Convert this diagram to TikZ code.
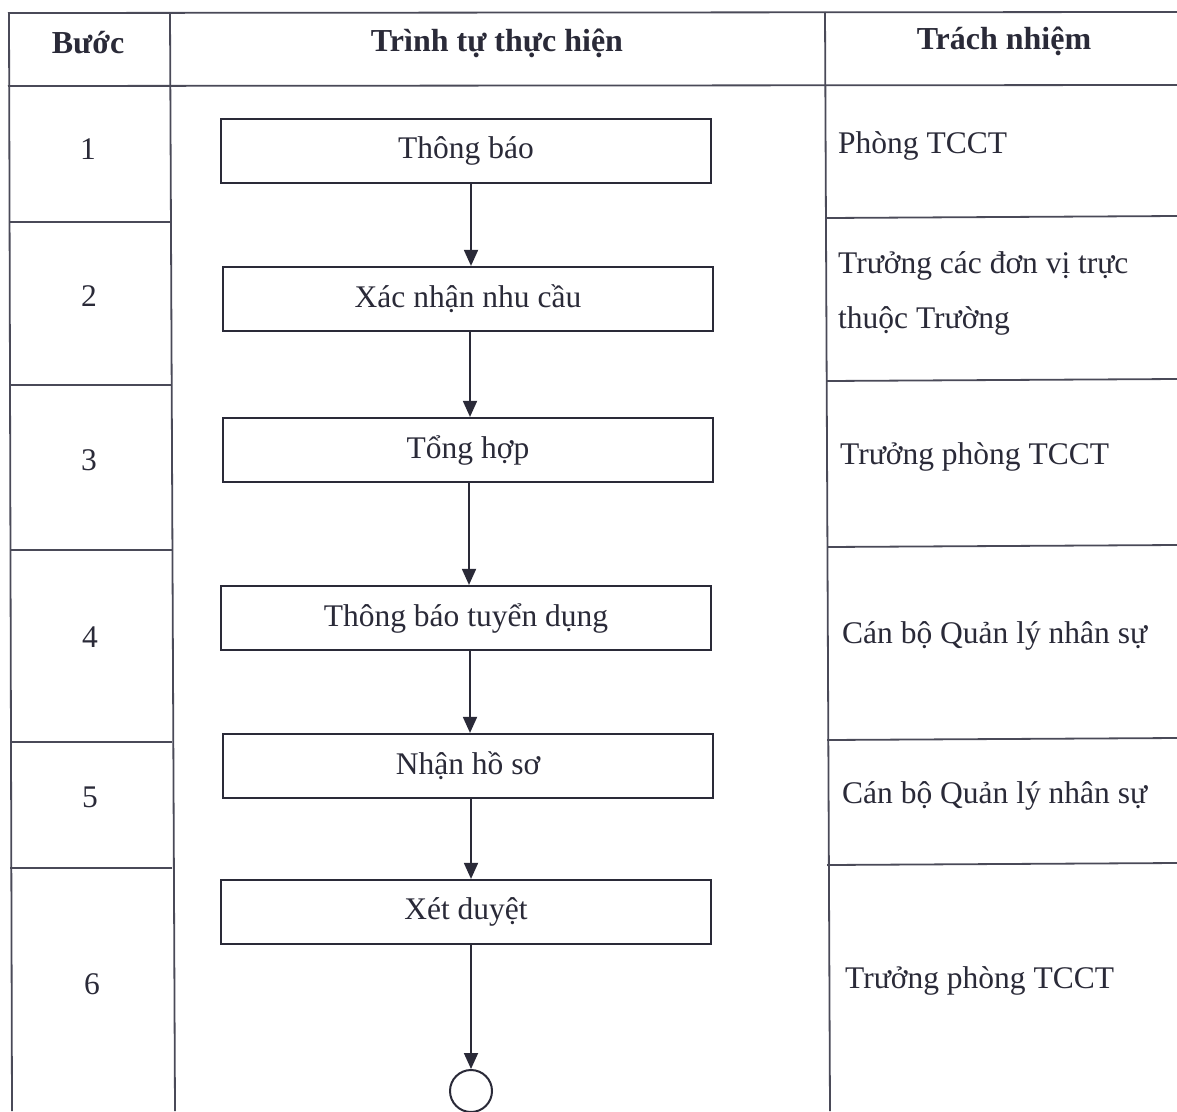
\documentclass[tikz,border=0pt]{standalone}
\usepackage{fontspec}
\setmainfont{Liberation Serif}
\usetikzlibrary{arrows.meta}
\definecolor{ink}{HTML}{2A2A38}
\definecolor{rule}{HTML}{4A4A58}
\tikzset{
  stepbox/.style={draw=ink, line width=2.2pt, minimum width=490pt, minimum height=64pt, inner sep=0pt, font=\fontsize{31.5}{36}\selectfont, text=ink},
  grid/.style={draw=rule, line width=1.8pt},
  arr/.style={draw=ink, line width=1.8pt, -{Triangle[length=16pt,width=14pt]}},
  num/.style={font=\fontsize{31.5}{36}\selectfont, text=ink},
  resp/.style={font=\fontsize{31.5}{36}\selectfont, text=ink, anchor=west, inner sep=0pt},
  head/.style={font=\bfseries\fontsize{32}{36}\selectfont, text=ink}
}
\begin{document}
\begin{tikzpicture}[x=1pt,y=-1pt]
\clip (0,0) rectangle (1177,1111);
\fill[white] (0,0) rectangle (1177,1111);
% table grid
\draw[grid] (8,13) -- (1177,12);
\draw[grid] (8,86) -- (1177,85);
\draw[grid] (9,13) -- (12,1111);
\draw[grid] (170,13) -- (175,1111);
\draw[grid] (825,12) -- (830,1111);
\foreach \y in {222,385,550,742,868} \draw[grid] (10,\y) -- (172,\y);
\foreach \y in {218,381,547,740,865} \draw[grid] (827,\y) -- (1177,\y-2);
% headers
\node[head] (h1) at (88,43) {Bước};
\node[head] (h2) at (497,43) {Trình tự thực hiện};
\node[head] (h3) at (1004,41) {Trách nhiệm};
% step numbers
\node[num] (n1) at (88,149) {1};
\node[num] (n2) at (89,296) {2};
\node[num] (n3) at (89,460) {3};
\node[num] (n4) at (90,637) {4};
\node[num] (n5) at (90,797) {5};
\node[num] (n6) at (92,984) {6};
% flow boxes
\node[stepbox] (b1) at (466,151) {Thông báo};
\node[stepbox] (b2) at (468,299) {Xác nhận nhu cầu};
\node[stepbox] (b3) at (468,450) {Tổng hợp};
\node[stepbox] (b4) at (466,618) {Thông báo tuyển dụng};
\node[stepbox] (b5) at (468,766) {Nhận hồ sơ};
\node[stepbox] (b6) at (466,912) {Xét duyệt};
\node[draw=ink, line width=2pt, circle, minimum size=42pt, inner sep=0pt] (end) at (471,1091) {};
% arrows
\draw[arr] (b1.south -| 471,0) -- (b2.north -| 471,0);
\draw[arr] (b2.south -| 470,0) -- (b3.north -| 470,0);
\draw[arr] (b3.south -| 469,0) -- (b4.north -| 469,0);
\draw[arr] (b4.south -| 470,0) -- (b5.north -| 470,0);
\draw[arr] (b5.south -| 471,0) -- (b6.north -| 471,0);
\draw[arr] (b6.south -| 471,0) -- (end.north);
% responsibilities
\node[resp] (r1) at (838,146) {Phòng TCCT};
\node[resp] (r2a) at (838,266) {Trưởng các đơn vị trực};
\node[resp] (r2b) at (838,321) {thuộc Trường};
\node[resp] (r3) at (840,457) {Trưởng phòng TCCT};
\node[resp] (r4) at (842,636) {Cán bộ Quản lý nhân sự};
\node[resp] (r5) at (842,796) {Cán bộ Quản lý nhân sự};
\node[resp] (r6) at (845,981) {Trưởng phòng TCCT};
\end{tikzpicture}
\end{document}
